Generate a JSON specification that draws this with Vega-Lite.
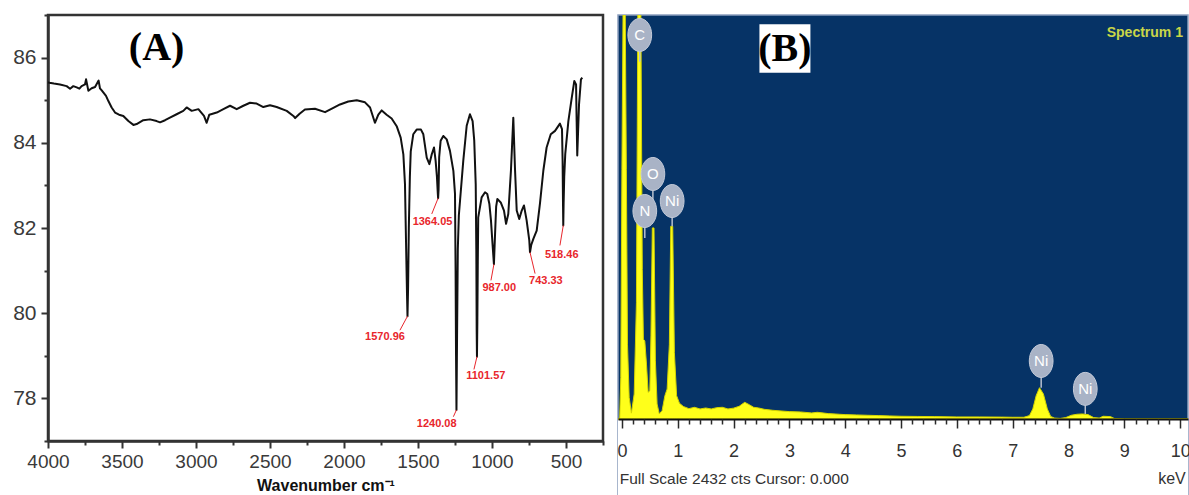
{
  "$schema": "https://vega.github.io/schema/vega-lite/v6.json",
  "background": "white",
  "padding": {"left": 0, "top": 12, "right": 0, "bottom": 0},
  "spacing": 10,
  "config": {
    "axis": {"grid": false, "labelFont": "Liberation Sans", "titleFont": "Liberation Sans"},
    "text": {"font": "Liberation Sans"}
  },
  "hconcat": [
    {
      "width": 555,
      "height": 426,
      "view": {"stroke": "#333333", "strokeWidth": 2.5, "fill": "white"},
      "resolve": {"axis": {"x": "independent", "y": "independent"}},
      "layer": [
        {
          "data": {
            "values": [
              {"wn": 4000, "T": 85.42}, {"wn": 3991, "T": 85.41}, {"wn": 3960, "T": 85.39}, {"wn": 3919, "T": 85.37},
              {"wn": 3874, "T": 85.33}, {"wn": 3851, "T": 85.27}, {"wn": 3829, "T": 85.33}, {"wn": 3806, "T": 85.3},
              {"wn": 3788, "T": 85.27}, {"wn": 3773, "T": 85.33}, {"wn": 3750, "T": 85.37}, {"wn": 3743, "T": 85.49},
              {"wn": 3727, "T": 85.22}, {"wn": 3705, "T": 85.28}, {"wn": 3682, "T": 85.31}, {"wn": 3658, "T": 85.46},
              {"wn": 3649, "T": 85.28}, {"wn": 3637, "T": 85.23}, {"wn": 3608, "T": 85.1}, {"wn": 3592, "T": 84.98},
              {"wn": 3570, "T": 84.83}, {"wn": 3547, "T": 84.71}, {"wn": 3520, "T": 84.66}, {"wn": 3491, "T": 84.63},
              {"wn": 3457, "T": 84.51}, {"wn": 3423, "T": 84.42}, {"wn": 3401, "T": 84.44}, {"wn": 3356, "T": 84.53},
              {"wn": 3311, "T": 84.55}, {"wn": 3266, "T": 84.51}, {"wn": 3243, "T": 84.48}, {"wn": 3209, "T": 84.53},
              {"wn": 3176, "T": 84.59}, {"wn": 3131, "T": 84.67}, {"wn": 3086, "T": 84.75}, {"wn": 3063, "T": 84.83},
              {"wn": 3029, "T": 84.75}, {"wn": 2984, "T": 84.79}, {"wn": 2946, "T": 84.63}, {"wn": 2928, "T": 84.47},
              {"wn": 2910, "T": 84.66}, {"wn": 2860, "T": 84.71}, {"wn": 2815, "T": 84.79}, {"wn": 2770, "T": 84.87},
              {"wn": 2725, "T": 84.79}, {"wn": 2680, "T": 84.87}, {"wn": 2635, "T": 84.94}, {"wn": 2590, "T": 84.92},
              {"wn": 2545, "T": 84.84}, {"wn": 2500, "T": 84.88}, {"wn": 2455, "T": 84.84}, {"wn": 2387, "T": 84.75},
              {"wn": 2342, "T": 84.63}, {"wn": 2330, "T": 84.58}, {"wn": 2300, "T": 84.68}, {"wn": 2264, "T": 84.78},
              {"wn": 2196, "T": 84.8}, {"wn": 2128, "T": 84.72}, {"wn": 2072, "T": 84.82}, {"wn": 2027, "T": 84.9},
              {"wn": 1971, "T": 84.97}, {"wn": 1914, "T": 85.0}, {"wn": 1858, "T": 84.95}, {"wn": 1824, "T": 84.83},
              {"wn": 1791, "T": 84.47}, {"wn": 1768, "T": 84.66}, {"wn": 1745, "T": 84.76}, {"wn": 1712, "T": 84.66},
              {"wn": 1678, "T": 84.57}, {"wn": 1644, "T": 84.39}, {"wn": 1617, "T": 84.12}, {"wn": 1599, "T": 83.73},
              {"wn": 1588, "T": 83.03}, {"wn": 1580, "T": 81.5}, {"wn": 1574, "T": 80.4}, {"wn": 1570.96, "T": 79.93},
              {"wn": 1567, "T": 80.6}, {"wn": 1562, "T": 82.0}, {"wn": 1555, "T": 83.2}, {"wn": 1549, "T": 83.8},
              {"wn": 1532, "T": 84.2}, {"wn": 1509, "T": 84.31}, {"wn": 1480, "T": 84.31}, {"wn": 1464, "T": 84.2},
              {"wn": 1441, "T": 83.65}, {"wn": 1423, "T": 83.5}, {"wn": 1407, "T": 83.73}, {"wn": 1392, "T": 83.89},
              {"wn": 1381, "T": 83.58}, {"wn": 1372, "T": 83.2}, {"wn": 1366, "T": 82.8}, {"wn": 1364.05, "T": 82.7},
              {"wn": 1361, "T": 82.9}, {"wn": 1357, "T": 83.66}, {"wn": 1347, "T": 84.05}, {"wn": 1329, "T": 84.16},
              {"wn": 1306, "T": 84.08}, {"wn": 1284, "T": 83.81}, {"wn": 1261, "T": 83.34}, {"wn": 1250, "T": 82.8},
              {"wn": 1246, "T": 81.0}, {"wn": 1243, "T": 79.0}, {"wn": 1240.08, "T": 77.73}, {"wn": 1236, "T": 79.5},
              {"wn": 1231, "T": 81.5}, {"wn": 1224, "T": 82.3}, {"wn": 1216, "T": 82.64}, {"wn": 1194, "T": 83.58},
              {"wn": 1171, "T": 84.4}, {"wn": 1149, "T": 84.67}, {"wn": 1131, "T": 84.51}, {"wn": 1120, "T": 84.05},
              {"wn": 1110, "T": 83.03}, {"wn": 1106, "T": 81.5}, {"wn": 1103.5, "T": 79.6}, {"wn": 1101.57, "T": 78.98},
              {"wn": 1099, "T": 79.8}, {"wn": 1096, "T": 81.2}, {"wn": 1093, "T": 82.25}, {"wn": 1070, "T": 82.72},
              {"wn": 1047, "T": 82.84}, {"wn": 1032, "T": 82.8}, {"wn": 1018, "T": 82.57}, {"wn": 1007, "T": 82.18},
              {"wn": 996, "T": 81.6}, {"wn": 987.0, "T": 81.15}, {"wn": 980, "T": 81.8}, {"wn": 972, "T": 82.5},
              {"wn": 964, "T": 82.68}, {"wn": 941, "T": 82.6}, {"wn": 919, "T": 82.41}, {"wn": 905, "T": 82.1},
              {"wn": 890, "T": 82.33}, {"wn": 872, "T": 83.35}, {"wn": 856, "T": 84.59}, {"wn": 845, "T": 83.42},
              {"wn": 833, "T": 82.41}, {"wn": 816, "T": 82.21}, {"wn": 799, "T": 82.41}, {"wn": 784, "T": 82.53},
              {"wn": 766, "T": 82.18}, {"wn": 748, "T": 81.71}, {"wn": 743.33, "T": 81.43}, {"wn": 735, "T": 81.6},
              {"wn": 720, "T": 81.75}, {"wn": 698, "T": 81.94}, {"wn": 676, "T": 82.57}, {"wn": 653, "T": 83.35},
              {"wn": 631, "T": 83.89}, {"wn": 603, "T": 84.2}, {"wn": 574, "T": 84.28}, {"wn": 541, "T": 84.45},
              {"wn": 527, "T": 84.32}, {"wn": 523, "T": 83.6}, {"wn": 520, "T": 82.5}, {"wn": 518.46, "T": 82.06},
              {"wn": 516, "T": 82.6}, {"wn": 512, "T": 83.2}, {"wn": 505, "T": 83.74}, {"wn": 484, "T": 84.51},
              {"wn": 461, "T": 85.06}, {"wn": 444, "T": 85.45}, {"wn": 432, "T": 85.37}, {"wn": 428, "T": 84.5},
              {"wn": 424, "T": 83.7}, {"wn": 418, "T": 84.3}, {"wn": 412, "T": 84.9}, {"wn": 399, "T": 85.49},
              {"wn": 390, "T": 85.53}
            ]
          },
          "mark": {"type": "line", "color": "#111111", "strokeWidth": 2, "strokeJoin": "round"},
          "encoding": {
            "x": {
              "field": "wn", "type": "quantitative", "sort": null,
              "scale": {"domain": [250, 4000], "reverse": true, "nice": false, "zero": false},
              "axis": {
                "title": "Wavenumber cm⁻¹",
                "values": [4000, 3500, 3000, 2500, 2000, 1500, 1000, 500],
                "format": "d",
                "tickSize": 7, "tickColor": "#333333", "tickWidth": 2,
                "domainColor": "#333333", "domainWidth": 2.5,
                "labelFontSize": 19, "labelColor": "#3a3a3a", "labelPadding": 4,
                "labelFlush": false, "labelOverlap": false,
                "titleFontSize": 16, "titleFontWeight": "bold", "titleColor": "#111111", "titlePadding": 6
              }
            },
            "y": {
              "field": "T", "type": "quantitative",
              "scale": {"domain": [77, 87], "nice": false, "zero": false},
              "axis": {
                "title": null,
                "values": [78, 80, 82, 84, 86],
                "tickSize": 7, "tickColor": "#333333", "tickWidth": 2,
                "domainColor": "#333333", "domainWidth": 2.5,
                "labelFontSize": 21, "labelColor": "#3a3a3a", "labelPadding": 5,
                "labelOverlap": false,
                "minExtent": 46
              }
            }
          }
        },
        {
          "data": {
            "values": [
              {"wn": 1570.96, "T": 79.93, "lx": 1622, "lT": 79.6, "tx": 1723, "tT": 79.43},
              {"wn": 1364.05, "T": 82.7, "lx": 1407, "lT": 82.33, "tx": 1402, "tT": 82.14},
              {"wn": 1240.08, "T": 77.73, "lx": 1261, "lT": 77.57, "tx": 1374, "tT": 77.4},
              {"wn": 1101.57, "T": 78.98, "lx": 1122, "lT": 78.68, "tx": 1042, "tT": 78.53},
              {"wn": 987.0, "T": 81.15, "lx": 1007, "lT": 80.77, "tx": 951, "tT": 80.59},
              {"wn": 743.33, "T": 81.43, "lx": 709, "lT": 80.93, "tx": 636, "tT": 80.76},
              {"wn": 518.46, "T": 82.06, "lx": 541, "lT": 81.59, "tx": 529, "tT": 81.36}
            ]
          },
          "layer": [
            {
              "mark": {"type": "rule", "color": "#e8262c", "strokeWidth": 1},
              "encoding": {
                "x": {"field": "wn", "type": "quantitative", "axis": null},
                "x2": {"field": "lx"},
                "y": {"field": "T", "type": "quantitative", "axis": null},
                "y2": {"field": "lT"}
              }
            },
            {
              "mark": {"type": "text", "color": "#e8262c", "fontSize": 11, "fontWeight": "bold", "align": "center", "baseline": "middle"},
              "encoding": {
                "x": {"field": "tx", "type": "quantitative", "axis": null},
                "y": {"field": "tT", "type": "quantitative", "axis": null},
                "text": {"field": "wn", "type": "quantitative", "format": ".2f"}
              }
            }
          ]
        },
        {
          "data": {"values": [{}]},
          "mark": {"type": "text", "text": "(A)", "font": "Liberation Serif", "fontSize": 40, "fontWeight": "bold", "color": "#000000", "align": "center", "baseline": "middle"},
          "encoding": {
            "x": {"datum": 3266, "type": "quantitative",
              "axis": {"orient": "bottom", "title": null, "labels": false, "domain": false,
                "values": [3750, 3250, 2750, 2250, 1750, 1250, 750, 250],
                "tickSize": 4, "tickColor": "#333333", "tickWidth": 2}},
            "y": {"datum": 86.22, "type": "quantitative",
              "axis": {"orient": "left", "title": null, "labels": false, "domain": false,
                "values": [77, 79, 81, 83, 85, 87],
                "tickSize": 4, "tickColor": "#333333", "tickWidth": 2}}
          }
        }
      ]
    },
    {
      "width": 570,
      "height": 480,
      "view": {"stroke": "#8c9ebd", "strokeWidth": 1.5, "fill": "#063366"},
      "resolve": {"axis": {"x": "independent", "y": "independent"}},
      "layer": [
        {
          "data": {"values": [{}]},
          "mark": {"type": "rect", "color": "white"},
          "encoding": {
            "x": {"datum": -0.07, "type": "quantitative", "scale": {"domain": [-0.07, 10.14], "nice": false, "zero": false},
              "axis": {
                "orient": "bottom", "offset": -76, "zindex": 1, "title": null,
                "values": [0, 1, 2, 3, 4, 5, 6, 7, 8, 9, 10],
                "format": "d",
                "tickSize": 9, "tickColor": "#2a2a2a", "tickWidth": 1.5,
                "domainColor": "#111111", "domainWidth": 2,
                "labelFontSize": 18, "labelColor": "#333333", "labelPadding": 14,
                "labelFlush": false, "labelOverlap": false
              }
            },
            "x2": {"datum": 10.14},
            "y": {"datum": -458, "type": "quantitative", "scale": {"domain": [-458, 2432], "nice": false, "zero": false, "clamp": true}, "axis": null},
            "y2": {"datum": 0}
          }
        },
        {
          "data": {
            "values": [
              {"keV": -0.07, "cts": 0}, {"keV": -0.04, "cts": 0}, {"keV": -0.02, "cts": 250}, {"keV": 0.0, "cts": 1500},
              {"keV": 0.02, "cts": 3000}, {"keV": 0.06, "cts": 3000}, {"keV": 0.08, "cts": 1500}, {"keV": 0.1, "cts": 450},
              {"keV": 0.13, "cts": 130}, {"keV": 0.17, "cts": 35}, {"keV": 0.22, "cts": 150}, {"keV": 0.26, "cts": 700},
              {"keV": 0.285, "cts": 3000}, {"keV": 0.34, "cts": 3000}, {"keV": 0.365, "cts": 900}, {"keV": 0.385, "cts": 480},
              {"keV": 0.41, "cts": 470}, {"keV": 0.44, "cts": 330}, {"keV": 0.47, "cts": 160}, {"keV": 0.5, "cts": 170},
              {"keV": 0.52, "cts": 500}, {"keV": 0.545, "cts": 1150}, {"keV": 0.575, "cts": 1150}, {"keV": 0.6, "cts": 350},
              {"keV": 0.63, "cts": 90}, {"keV": 0.67, "cts": 30}, {"keV": 0.72, "cts": 50}, {"keV": 0.77, "cts": 140},
              {"keV": 0.81, "cts": 180}, {"keV": 0.85, "cts": 450}, {"keV": 0.875, "cts": 1160}, {"keV": 0.91, "cts": 1160},
              {"keV": 0.94, "cts": 400}, {"keV": 0.98, "cts": 140}, {"keV": 1.03, "cts": 95}, {"keV": 1.1, "cts": 75},
              {"keV": 1.2, "cts": 62}, {"keV": 1.3, "cts": 70}, {"keV": 1.4, "cts": 60}, {"keV": 1.5, "cts": 66},
              {"keV": 1.6, "cts": 60}, {"keV": 1.7, "cts": 68}, {"keV": 1.8, "cts": 70}, {"keV": 1.9, "cts": 60},
              {"keV": 2.0, "cts": 65}, {"keV": 2.1, "cts": 76}, {"keV": 2.2, "cts": 100}, {"keV": 2.28, "cts": 86},
              {"keV": 2.36, "cts": 70}, {"keV": 2.45, "cts": 66}, {"keV": 2.55, "cts": 58}, {"keV": 2.7, "cts": 52},
              {"keV": 2.85, "cts": 48}, {"keV": 3.0, "cts": 44}, {"keV": 3.2, "cts": 42}, {"keV": 3.4, "cts": 36},
              {"keV": 3.5, "cts": 40}, {"keV": 3.7, "cts": 32}, {"keV": 3.9, "cts": 28}, {"keV": 4.0, "cts": 26},
              {"keV": 4.2, "cts": 24}, {"keV": 4.4, "cts": 22}, {"keV": 4.6, "cts": 20}, {"keV": 4.8, "cts": 18},
              {"keV": 5.0, "cts": 16}, {"keV": 5.3, "cts": 15}, {"keV": 5.6, "cts": 14}, {"keV": 6.0, "cts": 12},
              {"keV": 6.4, "cts": 12}, {"keV": 6.8, "cts": 11}, {"keV": 7.0, "cts": 10}, {"keV": 7.2, "cts": 10},
              {"keV": 7.3, "cts": 20}, {"keV": 7.36, "cts": 60}, {"keV": 7.42, "cts": 140}, {"keV": 7.48, "cts": 188},
              {"keV": 7.55, "cts": 150}, {"keV": 7.62, "cts": 60}, {"keV": 7.68, "cts": 15}, {"keV": 7.75, "cts": 5},
              {"keV": 7.85, "cts": 3}, {"keV": 7.95, "cts": 8}, {"keV": 8.05, "cts": 22}, {"keV": 8.15, "cts": 28},
              {"keV": 8.25, "cts": 30}, {"keV": 8.35, "cts": 26}, {"keV": 8.45, "cts": 8}, {"keV": 8.55, "cts": 5},
              {"keV": 8.62, "cts": 16}, {"keV": 8.75, "cts": 14}, {"keV": 8.82, "cts": 3}, {"keV": 9.0, "cts": 0},
              {"keV": 10.14, "cts": 0}
            ]
          },
          "mark": {"type": "area", "color": "#ffff1a", "stroke": "#d4d400", "strokeWidth": 1, "clip": true},
          "encoding": {
            "x": {"field": "keV", "type": "quantitative", "axis": null},
            "y": {"field": "cts", "type": "quantitative", "axis": null},
            "y2": {"datum": 0}
          }
        },
        {
          "data": {
            "values": [
              {"el": "C", "keV": 0.32, "cts": 2312, "tip": 2150},
              {"el": "O", "keV": 0.555, "cts": 1475, "tip": 1315},
              {"el": "N", "keV": 0.41, "cts": 1252, "tip": 1090},
              {"el": "Ni", "keV": 0.9, "cts": 1312, "tip": 1160},
              {"el": "Ni", "keV": 7.51, "cts": 349, "tip": 188},
              {"el": "Ni", "keV": 8.3, "cts": 181, "tip": 30}
            ]
          },
          "layer": [
            {
              "mark": {"type": "rule", "color": "#b8c0cf", "strokeWidth": 1.5},
              "encoding": {
                "x": {"field": "keV", "type": "quantitative", "axis": null},
                "y": {"field": "cts", "type": "quantitative", "axis": null},
                "y2": {"field": "tip"}
              }
            },
            {
              "mark": {"type": "point", "filled": true, "shape": "M -0.72 0 A 0.72 1 0 1 0 0.72 0 A 0.72 1 0 1 0 -0.72 0 Z", "size": 1089, "color": "#a9b3c6", "opacity": 1, "stroke": "#c3cad8", "strokeWidth": 1},
              "encoding": {
                "x": {"field": "keV", "type": "quantitative", "axis": null},
                "y": {"field": "cts", "type": "quantitative", "axis": null}
              }
            },
            {
              "mark": {"type": "text", "color": "white", "fontSize": 15, "align": "center", "baseline": "middle"},
              "encoding": {
                "x": {"field": "keV", "type": "quantitative", "axis": null},
                "y": {"field": "cts", "type": "quantitative", "axis": null},
                "text": {"field": "el"}
              }
            }
          ]
        },
        {
          "data": {"values": [{}]},
          "layer": [
            {
              "mark": {"type": "point", "filled": true, "shape": "M -1 -0.95 L 1 -0.95 L 1 0.95 L -1 0.95 Z", "size": 2601, "color": "white", "opacity": 1},
              "encoding": {"x": {"datum": 2.92, "axis": null}, "y": {"datum": 2230, "axis": null}}
            },
            {
              "mark": {"type": "text", "text": "(B)", "font": "Liberation Serif", "fontSize": 40, "fontWeight": "bold", "color": "#000000", "align": "center", "baseline": "middle"},
              "encoding": {"x": {"datum": 2.92, "axis": null}, "y": {"datum": 2230, "axis": null}}
            },
            {
              "mark": {"type": "text", "text": "Spectrum 1", "fontSize": 14, "fontWeight": "bold", "color": "#c9d648", "align": "right", "baseline": "middle"},
              "encoding": {"x": {"datum": 10.05, "axis": null}, "y": {"datum": 2326, "axis": null}}
            },
            {
              "mark": {"type": "text", "text": "Full Scale 2432 cts Cursor: 0.000", "fontSize": 15.5, "color": "#333333", "align": "left", "baseline": "middle"},
              "encoding": {"x": {"datum": -0.04, "axis": null}, "y": {"datum": -361, "axis": null}}
            },
            {
              "mark": {"type": "text", "text": "keV", "fontSize": 16, "color": "#333333", "align": "right", "baseline": "middle"},
              "encoding": {"x": {"datum": 10.1, "axis": null}, "y": {"datum": -361, "axis": null}}
            }
          ]
        },
        {
          "data": {"values": [{}]},
          "mark": {"type": "point", "opacity": 0, "size": 1},
          "encoding": {
            "x": {"datum": 5, "type": "quantitative",
              "axis": {
                "orient": "bottom", "offset": -76, "zindex": 1, "title": null, "labels": false, "domain": false,
                "values": [0.2, 0.4, 0.6, 0.8, 1.2, 1.4, 1.6, 1.8, 2.2, 2.4, 2.6, 2.8, 3.2, 3.4, 3.6, 3.8, 4.2, 4.4, 4.6, 4.8, 5.2, 5.4, 5.6, 5.8, 6.2, 6.4, 6.6, 6.8, 7.2, 7.4, 7.6, 7.8, 8.2, 8.4, 8.6, 8.8, 9.2, 9.4, 9.6, 9.8],
                "tickSize": 5, "tickColor": "#2a2a2a", "tickWidth": 1.5
              }
            },
            "y": {"datum": 1000, "type": "quantitative", "axis": null}
          }
        }
      ]
    }
  ]
}
